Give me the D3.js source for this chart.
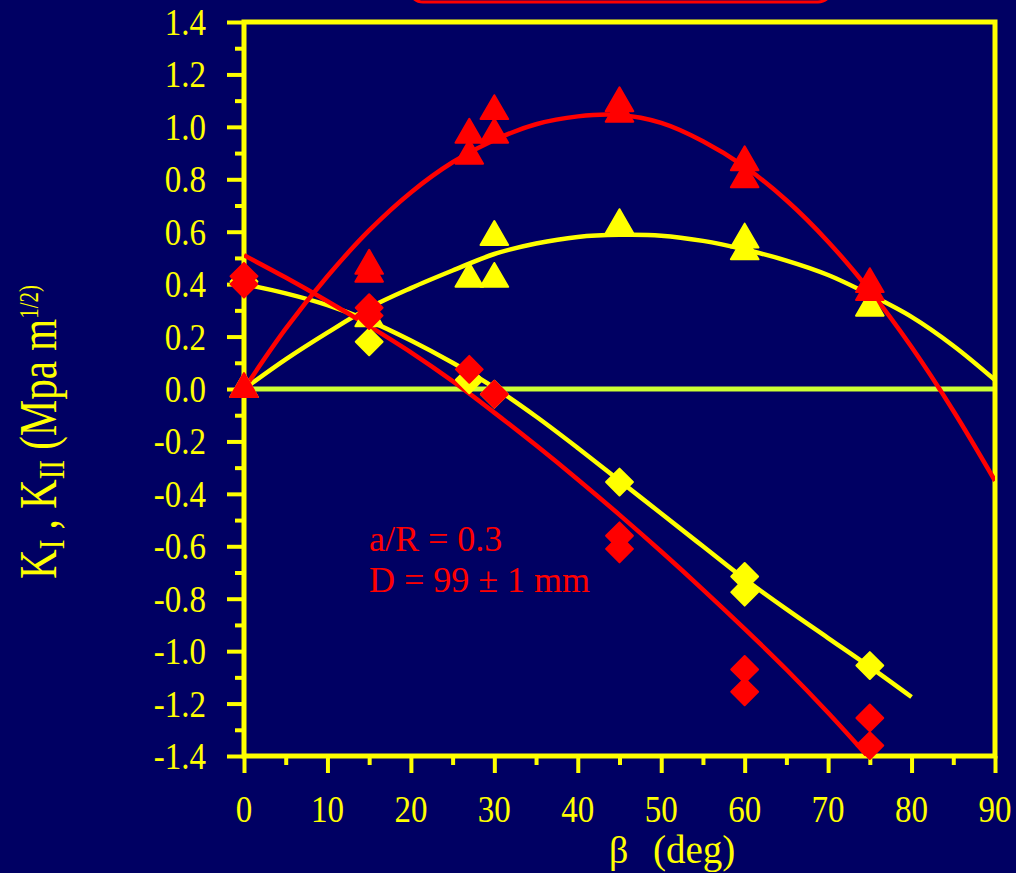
<!DOCTYPE html>
<html>
<head>
<meta charset="utf-8">
<script src="https://cdn.jsdelivr.net/npm/d3@7"></script>
<style>
  html, body { margin: 0; padding: 0; background: #000063; }
  svg { display: block; }
  text { font-family: "Liberation Serif", "Times New Roman", serif; }
</style>
</head>
<body>
<script>
// ---------- data ----------
const xTickValues = [0, 10, 20, 30, 40, 50, 60, 70, 80, 90];
const xMinorValues = [5, 15, 25, 35, 45, 55, 65, 75, 85];
const yTickValues = [1.4, 1.2, 1.0, 0.8, 0.6, 0.4, 0.2, 0.0, -0.2, -0.4, -0.6, -0.8, -1.0, -1.2, -1.4];
const yTickLabels = ["1.4", "1.2", "1.0", "0.8", "0.6", "0.4", "0.2", "0.0", "-0.2", "-0.4", "-0.6", "-0.8", "-1.0", "-1.2", "-1.4"];
const yMinorValues = [1.3, 1.1, 0.9, 0.7, 0.5, 0.3, 0.1, -0.1, -0.3, -0.5, -0.7, -0.9, -1.1, -1.3];

// measured points: [beta (deg), K]
const redTriangles = [[0, 0.0], [15, 0.47], [15, 0.44], [27, 0.97], [27, 0.89], [30, 1.06], [30, 0.97],
  [45, 1.09], [45, 1.05], [60, 0.865], [60, 0.80], [75, 0.40], [75, 0.37]];
const yellowTriangles = [[0, 0.0], [15, 0.27], [27, 0.42], [30, 0.58], [30, 0.42], [45, 0.625],
  [60, 0.57], [60, 0.525], [75, 0.31]];
const redDiamonds = [[0, 0.43], [0, 0.40], [15, 0.31], [15, 0.28], [27, 0.075], [30, -0.02],
  [45, -0.56], [45, -0.61], [60, -1.07], [60, -1.155], [75, -1.255], [75, -1.36]];
const yellowDiamonds = [[0, 0.41], [15, 0.18], [27, 0.035], [30, -0.02], [45, -0.355],
  [60, -0.715], [60, -0.775], [75, -1.055]];

// fitted curves, sampled every 5 deg
const fitBeta = [0, 5, 10, 15, 20, 25, 30, 35, 40, 45, 50, 55, 60, 65, 70, 75, 80, 85, 90];
const redTriFit = [0, 0.23, 0.43, 0.605, 0.75, 0.865, 0.95, 1.01, 1.04, 1.045, 1.015, 0.945, 0.848, 0.72, 0.562, 0.375, 0.16, -0.083, -0.35];
const yellowTriFit = [0, 0.113, 0.215, 0.31, 0.385, 0.452, 0.515, 0.555, 0.58, 0.588, 0.585, 0.565, 0.532, 0.49, 0.435, 0.36, 0.275, 0.165, 0.034];
const yellowDiaFit = [0.40, 0.365, 0.32, 0.26, 0.185, 0.10, 0.005, -0.105, -0.225, -0.35, -0.475, -0.60, -0.725, -0.84, -0.95, -1.06, -1.175];
const redDiaFit = [0.51, 0.425, 0.335, 0.24, 0.14, 0.03, -0.09, -0.215, -0.345, -0.48, -0.62, -0.765, -0.915, -1.07, -1.235, -1.41];

const annotationLines = ["a/R = 0.3", "D = 99 \u00B1 1 mm"];

// ---------- drawing ----------
const W = 1016, H = 873;
const NAVY = "#000063", YEL = "#ffff00", RED = "#ff0000", ZERO = "#ccff33";

const svg = d3.select("body").append("svg").attr("width", W).attr("height", H);
svg.append("rect").attr("width", W).attr("height", H).attr("fill", NAVY);

const x = d3.scaleLinear().domain([0, 90]).range([244, 995]);
const y = d3.scaleLinear().domain([-1.4, 1.4]).range([756, 22]);

// top red rounded box (clipped by the picture edge)
svg.append("rect").attr("x", 409).attr("y", -40).attr("width", 423).attr("height", 42)
  .attr("rx", 14).attr("fill", NAVY).attr("stroke", RED).attr("stroke-width", 3);

// clip
svg.append("defs").append("clipPath").attr("id", "plot")
  .append("rect").attr("x", x(0)).attr("y", y(1.4)).attr("width", x(90) - x(0)).attr("height", y(-1.4) - y(1.4));

// zero line
svg.append("line").attr("x1", x(0)).attr("x2", x(90)).attr("y1", y(0)).attr("y2", y(0))
  .attr("stroke", ZERO).attr("stroke-width", 5);

// axes ticks
const axG = svg.append("g");
const yMajor = d3.axisLeft(y).tickValues(yTickValues).tickSize(17).tickFormat("");
const yMinor = d3.axisLeft(y).tickValues(yMinorValues).tickSize(9).tickFormat("");
const xMajor = d3.axisBottom(x).tickValues(xTickValues).tickSize(17).tickFormat("");
const xMinor = d3.axisBottom(x).tickValues(xMinorValues).tickSize(9).tickFormat("");
function styleAxis(g) {
  g.select(".domain").remove();
  g.selectAll(".tick line").attr("stroke", YEL).attr("stroke-width", 4);
}
axG.append("g").attr("transform", `translate(${x(0)},0)`).call(yMajor).call(styleAxis);
axG.append("g").attr("transform", `translate(${x(0)},0)`).call(yMinor).call(styleAxis);
axG.append("g").attr("transform", `translate(0,${y(-1.4)})`).call(xMajor).call(styleAxis);
axG.append("g").attr("transform", `translate(0,${y(-1.4)})`).call(xMinor).call(styleAxis);

// frame
svg.append("rect").attr("x", x(0)).attr("y", y(1.4)).attr("width", x(90) - x(0)).attr("height", y(-1.4) - y(1.4))
  .attr("fill", "none").attr("stroke", YEL).attr("stroke-width", 5);

// tick labels
const yl = svg.append("g");
yTickValues.forEach((v, i) => {
  yl.append("g").attr("transform", `translate(206,${y(v) + 13})scale(1,1.18)`)
    .append("text").attr("text-anchor", "end").attr("font-size", 33).attr("fill", YEL).text(yTickLabels[i]);
});
const xl = svg.append("g");
xTickValues.forEach(v => {
  xl.append("g").attr("transform", `translate(${x(v)},822)scale(1,1.16)`)
    .append("text").attr("text-anchor", "middle").attr("font-size", 33).attr("fill", YEL).text(v);
});

// x title
svg.append("text").attr("x", 609).attr("y", 863).attr("font-size", 38).attr("fill", YEL).text("\u03B2");
svg.append("text").attr("x", 653).attr("y", 863).attr("font-size", 39).attr("fill", YEL).text("(deg)");

// y title
const yt = svg.append("g").attr("transform", "translate(56,432)rotate(-90)scale(1,1.27)")
  .append("text").attr("text-anchor", "middle").attr("font-size", 41).attr("fill", YEL);
yt.append("tspan").text("K");
yt.append("tspan").attr("font-size", 29).attr("dy", 6).text("I");
yt.append("tspan").attr("dy", -6).text(" , K");
yt.append("tspan").attr("font-size", 29).attr("dy", 6).text("II");
yt.append("tspan").attr("dy", -6).text(" (Mpa m");
yt.append("tspan").attr("font-size", 21).attr("dy", -14).text("1/2)");

// curves
const line = d3.line().x(d => x(d[0])).y(d => y(d[1])).curve(d3.curveCatmullRom.alpha(0.5));
const curveG = svg.append("g").attr("clip-path", "url(#plot)");
function fitPts(vals) { return vals.map((v, i) => [fitBeta[i], v]); }

function drawCurve(vals, color) {
  curveG.append("path").datum(fitPts(vals)).attr("d", line)
    .attr("fill", "none").attr("stroke", color).attr("stroke-width", 4.5).attr("stroke-linejoin", "round");
}
const tri = d3.symbol().type(d3.symbolTriangle).size(330);
const dia = d3.symbol().type(d3.symbolSquare).size(360);
function drawMarkers(pts, color, kind) {
  const g = svg.append("g");
  g.selectAll("path").data(pts).join("path")
    .attr("d", kind === "tri" ? tri : dia)
    .attr("transform", d => `translate(${x(d[0])},${y(d[1])})` + (kind === "tri" ? "" : " rotate(45)"))
    .attr("fill", color).attr("stroke", color).attr("stroke-width", 2).attr("stroke-linejoin", "round");
}

drawCurve(yellowTriFit, YEL);
drawCurve(yellowDiaFit, YEL);
drawMarkers(yellowTriangles, YEL, "tri");
drawMarkers(yellowDiamonds, YEL, "dia");
drawCurve(redTriFit, RED);
drawCurve(redDiaFit, RED);
drawMarkers(redTriangles, RED, "tri");
drawMarkers(redDiamonds, RED, "dia");

// annotation
const ann = svg.append("text").attr("font-size", 36).attr("fill", RED);
annotationLines.forEach((t, i) => {
  ann.append("tspan").attr("x", 369).attr("y", 551 + i * 41).text(t);
});
</script>
</body>
</html>
